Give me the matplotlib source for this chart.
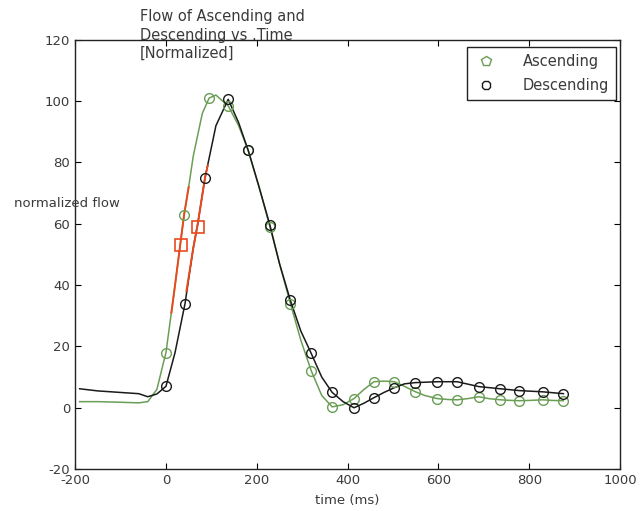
import matplotlib
matplotlib.use('Agg')
import matplotlib.pyplot as plt
from matplotlib.lines import Line2D

plt.rcParams['axes.unicode_minus'] = False

# ascending (green) curve
asc_t = [-190, -150, -100, -60, -40, -20, 0, 20, 33, 40, 50, 60, 80, 95, 110, 125, 137, 160,
         181, 205, 229, 250, 274, 297, 320, 343, 366, 390, 414, 436, 458, 480, 503, 525, 548,
         570, 597, 620, 641, 665, 689, 710, 736, 760, 778, 800, 830, 850, 875]
asc_v = [2.0, 2.0, 1.8, 1.6, 2.0, 6, 18, 40, 55, 63, 72, 82, 96, 101, 102, 100, 98.5, 92,
         84, 72, 59, 47, 34, 22, 12, 4, 0.3, 1, 3, 6, 8.5, 8.7, 8.5, 7, 5.3,
         4, 3, 2.7, 2.6, 3.0, 3.6, 3.0, 2.6, 2.4, 2.3, 2.4, 2.6, 2.4, 2.3]

# descending (black) curve
desc_t = [-190, -150, -100, -60, -40, -20, 0, 20, 42, 60, 70, 86, 110, 137, 160, 181, 205,
          229, 250, 274, 297, 319, 343, 366, 390, 414, 436, 458, 480, 502, 525, 548, 597,
          641, 689, 736, 778, 830, 875]
desc_v = [6.2, 5.5, 5.0, 4.6, 3.6, 4.5, 7, 18, 34, 52, 60, 75, 92, 100.6, 93, 84, 72,
          59.5, 47, 35, 25, 18, 10, 5, 2, 0, 1.5, 3.3, 5, 6.5, 7.8, 8.2, 8.5,
          8.5, 6.9, 6.2, 5.6, 5.2, 4.6]

# marker positions
asc_mt = [0, 40, 95, 137, 181, 229, 274, 320, 366, 414, 458, 503, 548, 597, 641, 689, 736, 778, 830, 875]
asc_mv = [18, 63, 101, 98.5, 84, 59, 34, 12, 0.3, 3, 8.5, 8.5, 5.3, 3, 2.6, 3.6, 2.6, 2.3, 2.6, 2.3]
desc_mt = [0, 42, 86, 137, 181, 229, 274, 319, 366, 414, 458, 502, 548, 597, 641, 689, 736, 778, 830, 875]
desc_mv = [7, 34, 75, 100.6, 84, 59.5, 35, 18, 5, 0, 3.3, 6.5, 8.2, 8.5, 8.5, 6.9, 6.2, 5.6, 5.2, 4.6]

# red highlighted segments and squares
red_asc_t = [12, 20, 33, 40, 50]
red_asc_v = [31, 40, 55, 63, 72]
red_desc_t = [45, 60, 70, 86, 92]
red_desc_v = [38, 52, 60, 75, 79]
red_sq_t = [33, 70]
red_sq_v = [53, 59]

GREEN = '#6a9e55'
BLACK = '#1a1a1a'
RED = '#e84a1e'
TXT = '#3a3a3a'

fig = plt.figure(figsize=(6.42, 5.11), dpi=100)
ax = fig.add_axes([0.117, 0.082, 0.849, 0.840])

ax.plot(asc_t, asc_v, color=GREEN, lw=1.1)
ax.plot(desc_t, desc_v, color=BLACK, lw=1.1)
ax.plot(red_asc_t, red_asc_v, color=RED, lw=1.4)
ax.plot(red_desc_t, red_desc_v, color=RED, lw=1.4)
ax.plot(asc_mt, asc_mv, ls='none', marker='o', ms=7, mfc='none', mec=GREEN, mew=1.0)
ax.plot(desc_mt, desc_mv, ls='none', marker='o', ms=7, mfc='none', mec=BLACK, mew=1.0)
ax.plot(red_sq_t, red_sq_v, ls='none', marker='s', ms=9, mfc='none', mec=RED, mew=1.2)

ax.set_xlim(-200, 1000)
ax.set_ylim(-20, 120)
ax.set_xticks(range(-200, 1001, 200))
ax.set_yticks(range(-20, 121, 20))
ax.tick_params(direction='in', top=True, right=True, labelsize=9.5, labelcolor=TXT, length=4)
for s in ax.spines.values():
    s.set_color('#222222')
    s.set_linewidth(1.0)

ax.set_xlabel('time (ms)', fontsize=9.5, color=TXT, labelpad=5)
fig.text(14 / 642, 1 - 203 / 511, 'normalized flow', fontsize=9.5, color=TXT, va='center')
fig.text(140 / 642, 1 - 9 / 511, 'Flow of Ascending and\nDescending vs .Time\n[Normalized]',
         fontsize=10.5, color=TXT, va='top', ha='left', linespacing=1.3)

handles = [Line2D([], [], ls='none', marker='p', ms=7, mfc='none', mec=GREEN),
           Line2D([], [], ls='none', marker='8', ms=7, mfc='none', mec=BLACK)]
leg = ax.legend(handles, ['Ascending', 'Descending'], loc='upper right',
                bbox_to_anchor=(0.993, 0.983), borderaxespad=0, fontsize=10.5, fancybox=False,
                edgecolor='#222222', framealpha=1, handlelength=1.5, handletextpad=1.8,
                borderpad=0.5, labelspacing=0.6)
for t in leg.get_texts():
    t.set_color(TXT)
leg.get_frame().set_linewidth(1.0)

fig.savefig('out.png', dpi=100)
